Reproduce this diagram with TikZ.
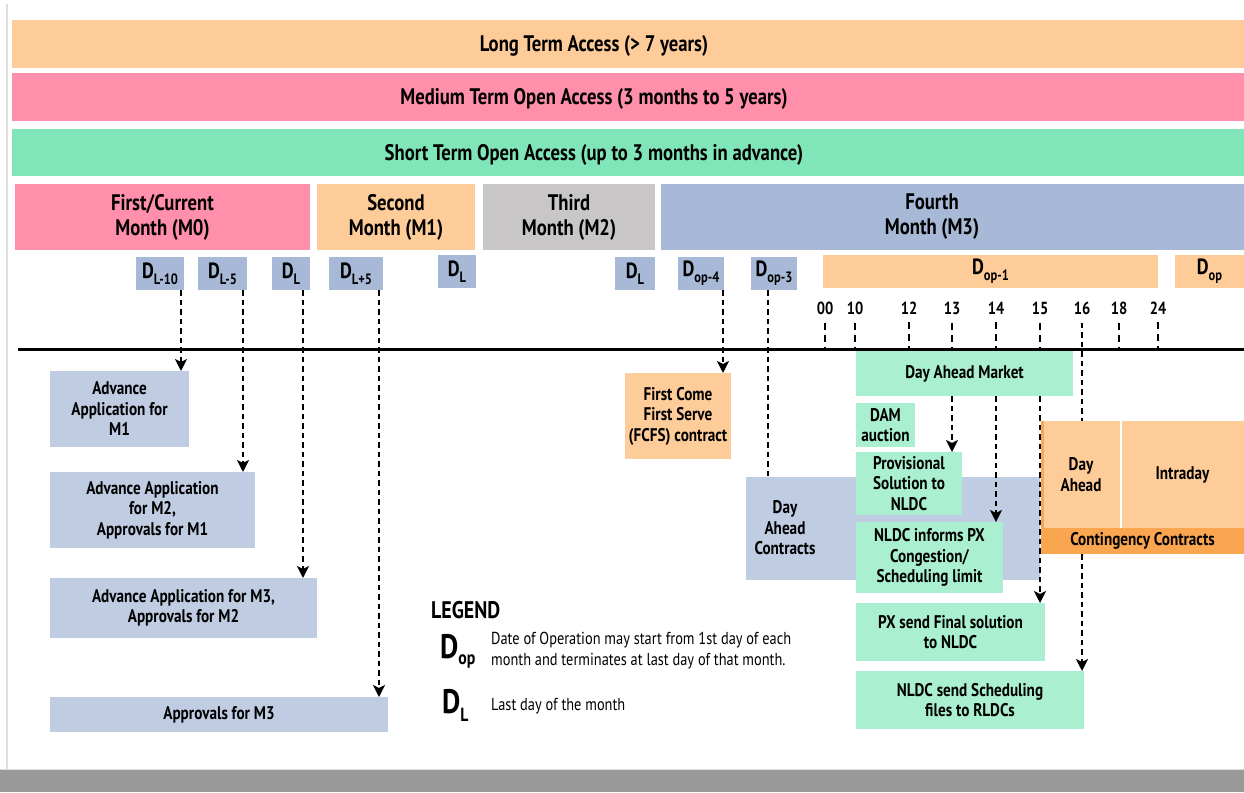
\documentclass[tikz,border=0pt]{standalone}
\usepackage{fontspec}
\setmainfont{PT Sans}[FakeStretch=0.83]
\usetikzlibrary{arrows.meta,calc}

\definecolor{lorange}{RGB}{254,204,153}
\definecolor{lpink}{RGB}{255,143,171}
\definecolor{lgreen}{RGB}{128,230,185}
\definecolor{mint}{RGB}{170,240,208}
\definecolor{mblue}{RGB}{168,185,216}
\definecolor{pblue}{RGB}{192,204,226}
\definecolor{mgrey}{RGB}{200,198,198}
\definecolor{corange}{RGB}{250,165,80}
\definecolor{framegrey}{RGB}{153,153,153}
\definecolor{edgegrey}{RGB}{222,222,222}

\newcommand{\Dlab}[1]{D\raisebox{-0.26em}{\fontsize{15}{15}\selectfont #1}}

\tikzset{
  box/.style={inner sep=0pt, outer sep=0pt, anchor=north west, align=center, draw=none},
  bartext/.style={font=\fontsize{22.5}{25}\selectfont\bfseries},
  monthtext/.style={font=\fontsize{22.5}{25}\selectfont\bfseries, align=center},
  dtext/.style={font=\fontsize{22}{24}\selectfont\bfseries},
  btext/.style={font=\fontsize{18.3}{20.5}\selectfont\bfseries, align=center},
  hrtext/.style={font=\fontsize{17.5}{18}\selectfont\bfseries, inner sep=1pt},
  darr/.style={line width=2.8pt, dash pattern=on 5.5pt off 4pt,
    -{Stealth[length=12pt,width=12pt,inset=3pt]}},
  dline/.style={line width=2.8pt, dash pattern=on 5.5pt off 4pt},
  tickdash/.style={line width=2.8pt, dash pattern=on 7pt off 5pt},
}

\begin{document}
\begin{tikzpicture}[x=1pt,y=-1pt]
\useasboundingbox (0,0) rectangle (1244,792);

% page frame
\draw[edgegrey, line width=2pt] (7,4) -- (7,770);
\fill[framegrey] (0,770) rectangle (1244,792);
\draw[edgegrey, line width=1.5pt] (0,769.5) -- (1244,769.5);

% access categories
\node[box, fill=lorange, minimum width=1232pt, minimum height=48pt] (lta) at (12,20) {};
\node[bartext] (ltat) at (594,46) {Long Term Access (> 7 years)};
\node[box, fill=lpink, minimum width=1232pt, minimum height=48pt] (mta) at (12,73) {};
\node[bartext] (mtat) at (594,99) {Medium Term Open Access (3 months to 5 years)};
\node[box, fill=lgreen, minimum width=1232pt, minimum height=47pt] (sta) at (12,129) {};
\node[bartext] (stat) at (594,155) {Short Term Open Access (up to 3 months in advance)};

% months
\node[box, fill=lpink, minimum width=295pt, minimum height=66pt, monthtext] (m0) at (15,184) {First/Current\\Month (M0)};
\node[box, fill=lorange, minimum width=158pt, minimum height=66pt, monthtext] (m1) at (317,184) {Second\\Month (M1)};
\node[box, fill=mgrey, minimum width=172pt, minimum height=66pt, monthtext] (m2) at (483,184) {Third\\Month (M2)};
\node[box, fill=mblue, minimum width=583pt, minimum height=66pt] (m3) at (661,184) {};
\node[monthtext] (m3t) at (932,217) {Fourth\\Month (M3)};

% day markers
\node[box, fill=mblue, minimum width=48pt, minimum height=33pt, dtext] (dl10) at (136,257) {\Dlab{L-10}};
\node[box, fill=mblue, minimum width=49pt, minimum height=33pt, dtext] (dl5) at (198,257) {\Dlab{L-5}};
\node[box, fill=mblue, minimum width=38pt, minimum height=33pt, dtext] (dla) at (272,257) {\Dlab{L}};
\node[box, fill=mblue, minimum width=54pt, minimum height=33pt, dtext] (dl5p) at (329,257) {\Dlab{L+5}};
\node[box, fill=mblue, minimum width=38pt, minimum height=33pt, dtext] (dlb) at (438,255) {\Dlab{L}};
\node[box, fill=mblue, minimum width=40pt, minimum height=33pt, dtext] (dlc) at (615,257) {\Dlab{L}};
\node[box, fill=mblue, minimum width=46pt, minimum height=33pt, dtext] (dop4) at (678,257) {\Dlab{op-4}};
\node[box, fill=mblue, minimum width=46pt, minimum height=33pt, dtext] (dop3) at (751,257) {\Dlab{op-3}};
\node[box, fill=lorange, minimum width=335pt, minimum height=33pt, dtext] (dop1) at (823,255) {\Dlab{op-1}};
\node[box, fill=lorange, minimum width=69pt, minimum height=33pt, dtext] (dop) at (1175,255) {\Dlab{op}};

% hours of the day before operation
\foreach \h/\x in {00/825,10/855,12/909,13/952,14/996,15/1040,16/1082,18/1119,24/1158}{
  \node[hrtext] (h\h) at (\x,308) {\h};
}

% time axis
\coordinate (ml) at (18,349);
\coordinate (mr) at (1244,349);
\draw[line width=3pt] (ml) -- (mr);

\foreach \h in {00,10,12,13,14,15,18,24}{
  \draw[tickdash] ($(h\h.south)+(0,7)$) -- (h\h.south |- ml);
}

% long and medium horizon steps
\node[box, fill=pblue, minimum width=139pt, minimum height=76pt, btext] (am1) at (50,371) {Advance\\Application for\\M1};
\node[box, fill=pblue, minimum width=205pt, minimum height=76pt, btext] (am2) at (50,472) {Advance Application\\for M2,\\Approvals for M1};
\node[box, fill=pblue, minimum width=267pt, minimum height=60pt, btext] (am3) at (50,578) {Advance Application for M3,\\Approvals for M2};
\node[box, fill=pblue, minimum width=338pt, minimum height=35pt, btext] (ap3) at (50,697) {Approvals for M3};

\node[box, fill=lorange, minimum width=106pt, minimum height=86pt, btext] (fcfs) at (625,373) {First Come\\First Serve\\(FCFS) contract};

% day-ahead and intraday block
\node[box, fill=pblue, minimum width=294pt, minimum height=103pt] (dac) at (746,477) {};
\node[btext] (dact) at (785,528) {Day\\Ahead\\Contracts};

\node[box, fill=lorange, minimum width=80pt, minimum height=107pt, btext] (dao) at (1041,421) {Day\\Ahead};
\node[box, fill=lorange, minimum width=123pt, minimum height=107pt, btext] (intr) at (1121,421) {Intraday};
\draw[white, line width=1.5pt] (intr.north west) -- (intr.south west);
\node[box, fill=corange, minimum width=203pt, minimum height=26pt, btext] (cont) at (1041,528) {Contingency Contracts};
\fill[corange] (dao.north west) rectangle ($(dao.south west)+(3,0)$);

\node[box, fill=mint, minimum width=217pt, minimum height=45pt, btext] (dam) at (856,351) {Day Ahead Market};
\node[box, fill=mint, minimum width=59pt, minimum height=44pt, btext] (dama) at (856,403) {DAM\\auction};
\node[box, fill=mint, minimum width=106pt, minimum height=63pt, btext] (prov) at (856,452) {Provisional\\Solution to\\NLDC};
\node[box, fill=mint, minimum width=147pt, minimum height=71pt, btext] (ninf) at (856,522) {NLDC informs PX\\Congestion/\\Scheduling limit};
\node[box, fill=mint, minimum width=189pt, minimum height=58pt, btext] (pxs) at (856,603) {PX send Final solution\\to NLDC};
\node[box, fill=mint, minimum width=228pt, minimum height=58pt, btext] (nsend) at (856,671) {NLDC send Scheduling\\files to RLDCs};

% connectors
\coordinate (a1) at ($(dl10.south east)+(-3,0)$);
\coordinate (a2) at ($(dl5.south east)+(-4,0)$);
\coordinate (a3) at ($(dla.south east)+(-7,0)$);
\coordinate (a4) at ($(dl5p.south east)+(-4,0)$);
\coordinate (a5) at ($(dop4.south east)+(-1,0)$);
\coordinate (a6) at ($(dop3.south)+(-6,0)$);
\draw[darr] (a1) -- (a1 |- am1.north);
\draw[darr] (a2) -- (a2 |- am2.north);
\draw[darr] (a3) -- (a3 |- am3.north);
\draw[darr] (a4) -- (a4 |- ap3.north);
\draw[darr] (a5) -- (a5 |- fcfs.north);
\draw[dline] (a6) -- (a6 |- dac.north);

\draw[darr] (h13 |- dam.south) -- (h13 |- prov.north);
\draw[darr] (h14 |- dam.south) -- (h14 |- ninf.north);
\draw[darr] (h15 |- dam.south) -- (h15 |- pxs.north);
\draw[dline] ($(h16.south)+(0,7)$) -- (h16 |- dao.north);
\draw[darr] (h16 |- cont.south) -- (h16 |- nsend.north);

% legend
\node[anchor=base west, font=\fontsize{24}{26}\selectfont\bfseries, inner sep=0pt] (leg) at (431,618) {LEGEND};
\node[anchor=base west, font=\fontsize{34}{36}\selectfont\bfseries, inner sep=0pt] (ldop) at (440,658) {D\raisebox{-0.2em}{\fontsize{19}{19}\selectfont op}};
\node[anchor=base west, font=\fontsize{34}{36}\selectfont\bfseries, inner sep=0pt] (ldl) at (442,713) {D\raisebox{-0.25em}{\fontsize{19}{19}\selectfont L}};
\node[anchor=north west, font=\fontsize{17.3}{20.5}\selectfont, align=left, inner sep=0pt] (ldopt) at (491,632) {Date of Operation may start from 1st day of each\\month and terminates at last day of that month.};
\node[anchor=base west, font=\fontsize{17.3}{20.5}\selectfont, inner sep=0pt] (ldlt) at (491,710) {Last day of the month};
\end{tikzpicture}
\end{document}
